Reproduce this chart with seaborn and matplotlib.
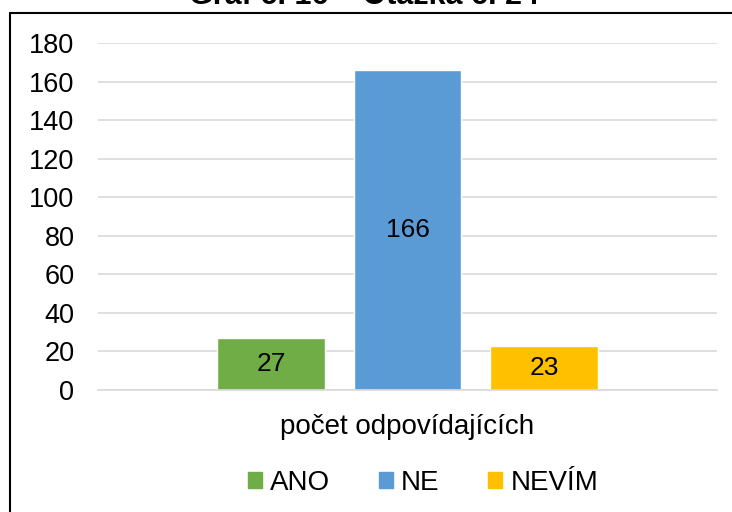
import matplotlib
matplotlib.use("Agg")
import matplotlib.pyplot as plt
from matplotlib.lines import Line2D
import pandas as pd
import seaborn as sns

# data
kategorie = ["počet odpovídajících"]
odpovedi = ["ANO", "NE", "NEVÍM"]
pocty = [27, 166, 23]
barvy = ["#70AD47", "#5B9BD5", "#FFC000"]
yticks = [0, 20, 40, 60, 80, 100, 120, 140, 160, 180]

df = pd.DataFrame({
    "kategorie": kategorie * len(odpovedi),
    "odpoved": odpovedi,
    "pocet": pocty,
})

sns.set_theme(style="white")
plt.rcParams["font.family"] = ["Liberation Sans", "DejaVu Sans"]

fig = plt.figure(figsize=(7.32, 5.12), dpi=100)
ax = fig.add_axes([98 / 732, 1 - 390 / 512, (717 - 98) / 732, (390 - 43) / 512])

sns.barplot(data=df, x="kategorie", y="pocet", hue="odpoved", palette=barvy,
            width=0.662, gap=0.21, saturation=1, ax=ax, legend=False)

for cont in ax.containers:
    ax.bar_label(cont, label_type="center", fontsize=19, color="black")

ax.set_ylim(0, 180)
ax.set_xlim(-0.5, 0.5)
ax.set_yticks(yticks)
ax.yaxis.grid(True, color="#D9D9D9", linewidth=1.2)
ax.set_axisbelow(True)
for s in ["left", "right", "top"]:
    ax.spines[s].set_visible(False)
ax.spines["bottom"].set_color("#D9D9D9")
ax.spines["bottom"].set_linewidth(1.2)
ax.tick_params(axis="y", length=0, pad=17, labelsize=19.5, labelcolor="black")
ax.tick_params(axis="x", length=0, pad=17, labelsize=20, labelcolor="black")
ax.set_xlabel("")
ax.set_ylabel("")

# legenda
handles = [plt.Rectangle((0, 0), 1, 1, color=c) for c in barvy]
fig.legend(handles, odpovedi, loc="center", bbox_to_anchor=(423 / 732, 1 - 483 / 512),
           ncol=3, frameon=False, fontsize=20, handlelength=0.5, handleheight=0.5,
           handletextpad=0.3, columnspacing=1.75, labelcolor="black")

# nadpis (oriznuty nahore)
fig.text(0.497, 1 - 4 / 512, "Graf č. 16 – Otázka č. 24", ha="center", va="baseline",
         fontsize=22, fontweight="bold", color="black")

# ramecek
fig.add_artist(Line2D([10 / 732, 1], [1 - 13 / 512, 1 - 13 / 512], color="black", linewidth=1.5))
fig.add_artist(Line2D([10 / 732, 10 / 732], [0, 1 - 13 / 512], color="black", linewidth=1.5))

fig.savefig("out.png", dpi=100)
